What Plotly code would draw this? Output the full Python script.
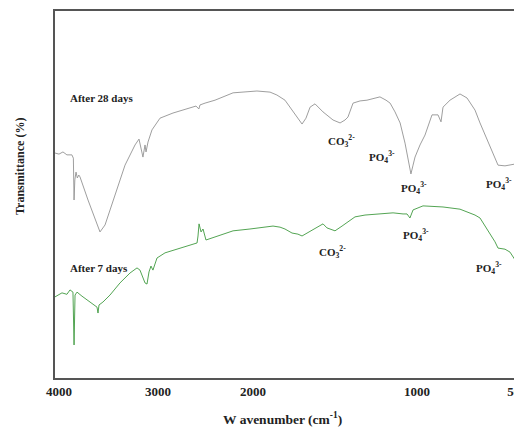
import numpy as np
import plotly.graph_objects as go

# ---- data (wavenumber in cm-1, transmittance in % / arbitrary offset) ----
wn_28 = [4040, 4000, 3960, 3920, 3870, 3855, 3848, 3840, 3828, 3815, 3800, 3788,
         3707, 3636, 3586, 3535, 3434, 3333, 3232, 3192, 3152, 3141, 3131, 3121,
         3101, 3061, 3010, 2979, 2842, 2716, 2600, 2570, 2558, 2505, 2400, 2210,
         2084, 1976, 1896, 1854, 1805, 1774, 1738, 1701, 1677, 1652, 1622, 1573,
         1512, 1469, 1439, 1421, 1390, 1347, 1305, 1256, 1226, 1189, 1164, 1134,
         1103, 1073, 1055, 1037, 1024, 1012, 985, 960, 925, 895, 880, 870, 835,
         785, 750, 710, 685, 650, 620, 595, 560, 535, 510, 495, 475]
t_28 = [61.3, 61.0, 61.6, 60.8, 60.8, 59.9, 48.5, 54.0, 56.1, 54.5, 55.3, 54.8,
        48.5, 43.1, 39.8, 41.7, 49.9, 58.0, 63.5, 65.1, 60.2, 62.7, 63.5, 61.6,
        64.3, 67.6, 69.5, 70.8, 72.2, 73.3, 74.1, 73.3, 74.4, 74.9, 75.7, 77.7,
        77.9, 78.2, 77.9, 77.1, 75.7, 73.8, 71.7, 69.2, 70.8, 73.8, 74.7, 72.5,
        70.3, 69.5, 70.3, 71.1, 74.9, 75.5, 75.7, 76.3, 76.6, 75.7, 74.9, 72.5,
        69.5, 64.0, 59.9, 55.6, 58.0, 60.2, 63.5, 66.2, 71.7, 71.7, 69.8, 73.8, 75.7,
        77.4, 76.3, 73.0, 69.5, 64.9, 61.3, 58.0, 57.8, 58.0, 58.3, 59.4, 58.6]

wn_7 = [4040, 3970, 3920, 3889, 3859, 3848, 3838, 3818, 3768, 3687, 3616, 3606,
        3596, 3556, 3485, 3384, 3283, 3212, 3182, 3131, 3111, 3091, 3071, 3051,
        3010, 2926, 2768, 2589, 2579, 2568, 2547, 2526, 2495, 2400, 2210, 2032,
        1957, 1878, 1835, 1805, 1762, 1726, 1701, 1671, 1634, 1604, 1573, 1549,
        1500, 1457, 1408, 1378, 1317, 1244, 1146, 1085, 1061, 1043, 1024, 970,
        870, 785, 750, 710, 685, 635, 610, 595, 560, 535, 510, 500, 495, 485, 475]
t_7 = [22.1, 23.2, 22.8, 24.0, 23.4, 9.0, 22.6, 23.4, 22.3, 20.7, 19.3, 17.7,
       19.9, 20.7, 22.6, 25.9, 28.6, 30.0, 29.4, 25.9, 25.6, 28.9, 30.5, 29.4,
       32.7, 34.1, 35.4, 36.8, 38.7, 42.0, 39.8, 40.6, 37.6, 38.4, 40.1, 40.6,
       40.9, 41.4, 41.1, 40.6, 39.5, 39.2, 38.7, 39.5, 40.6, 41.4, 42.0, 40.9,
       40.1, 41.4, 42.8, 43.9, 44.4, 44.7, 45.0, 44.7, 44.7, 43.6, 45.8, 46.9,
       46.6, 46.0, 45.2, 44.4, 43.6, 39.5, 37.1, 35.4, 35.1, 34.3, 32.2, 30.5, 28.9, 29.4, 29.2]

tick_labels = ["4000", "3000", "2000", "1000", "500"]
tick_wn = [4000, 3000, 2000, 1000, 500]

# ---- non-linear (piecewise) wavenumber scale, as in the original figure ----
scale_wn = [4040, 4000, 3000, 2000, 1000, 500, 450]
scale_pos = [55, 59, 158, 253, 417, 517, 527]


def to_pos(w):
    w = np.asarray(w, dtype=float)
    return np.interp(-w, -np.asarray(scale_wn, float), np.asarray(scale_pos, float))


# page body has an 8px margin; figure is sized so it ends at the window edge
OFF = 8
W, H = 522 - OFF, 430 - OFF
ML, MT = 55 - OFF, 11 - OFF
MR = 0
MB = H - (378 - OFF)
PW, PH = W - ML - MR, H - MT - MB


def px(x):
    return (x - 55) / PW


def py(y):
    return (378 - y) / PH


FONT = "Liberation Serif, Times New Roman, serif"

fig = go.Figure()
fig.add_trace(go.Scatter(x=to_pos(wn_28), y=t_28, mode="lines",
                         line=dict(color="#939393", width=0.9), name="After 28 days",
                         showlegend=False))
fig.add_trace(go.Scatter(x=to_pos(wn_7), y=t_7, mode="lines",
                         line=dict(color="#3f9a3f", width=0.9), name="After 7 days",
                         showlegend=False))

annots = [
    ("After 28 days", 68, 98),
    ("After 7 days", 68, 268),
    ("CO<sub>3</sub><sup>2-</sup>", 326, 141),
    ("PO<sub>4</sub><sup>3-</sup>", 367, 157),
    ("PO<sub>4</sub><sup>3-</sup>", 399, 188),
    ("PO<sub>4</sub><sup>3-</sup>", 484, 184),
    ("PO<sub>4</sub><sup>3-</sup>", 401, 235),
    ("CO<sub>3</sub><sup>2-</sup>", 317, 252),
    ("PO<sub>4</sub><sup>3-</sup>", 474, 268),
]
for txt, x0, y0 in annots:
    fig.add_annotation(x=px(x0), y=py(y0), xref="paper", yref="paper",
                       text="<b>" + txt + "</b>", showarrow=False,
                       xanchor="left", yanchor="middle",
                       font=dict(family=FONT, size=11, color="#222"))

fig.add_annotation(x=px(282), y=py(418), xref="paper", yref="paper",
                   text="<b>W avenumber (cm<sup>-1</sup>)</b>", showarrow=False,
                   xanchor="center", yanchor="middle",
                   font=dict(family=FONT, size=13.5, color="#222"))
fig.add_annotation(x=px(20), y=py(167), xref="paper", yref="paper",
                   text="<b>Transmittance (%)</b>", showarrow=False, textangle=-90,
                   xanchor="center", yanchor="middle",
                   font=dict(family=FONT, size=12, color="#222"))

fig.update_xaxes(range=[55, 522], tickvals=list(to_pos(tick_wn)), ticktext=tick_labels,
                 showgrid=False, zeroline=False, showline=True, mirror=True,
                 linecolor="#555", linewidth=2, ticks="", ticklen=0, automargin=False,
                 ticklabeloverflow="allow",
                 tickfont=dict(family=FONT, size=13, color="#222", weight="bold"))
fig.update_yaxes(range=[0, 100], showticklabels=False, showgrid=False, zeroline=False,
                 showline=True, mirror=False, linecolor="#555", linewidth=2, ticks="",
                 automargin=False)

fig.update_layout(width=W, height=H, margin=dict(l=ML, r=MR, t=MT, b=MB),
                  plot_bgcolor="white", paper_bgcolor="white")

fig.write_html("out.html")
